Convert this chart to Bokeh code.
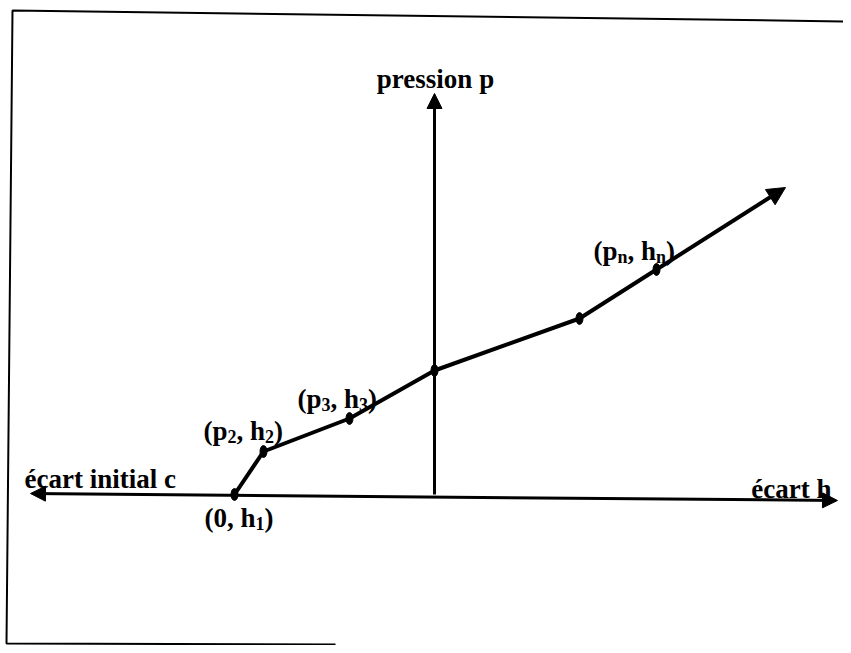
from bokeh.plotting import figure
from bokeh.models import Range1d, Arrow, NormalHead
from bokeh.core.properties import value
from bokeh.embed import file_html
from bokeh.resources import INLINE

# ---- data (units: pixels, origin at the crossing of the two axes) ----
h_points = [-200, -171, -85, 0, 145, 222]      # écart h
p_points = [0, 43, 76, 124, 176, 225]          # pression p
h_arrow_end = 351
p_arrow_end = 307

h_axis_left = -404
h_axis_right = 403
p_axis_left = 1
p_axis_right = -6
p_axis_top = 401

# point labels: (main1, sub1, main2, sub2), anchor = left / baseline
label_parts = [("0", "", "h", "1"), ("p", "2", "h", "2"),
               ("p", "3", "h", "3"), ("p", "n", "h", "n")]
label_h = [-230, -231, -137, 159]
label_p = [-23, 64, 96, 244]

axis_titles = ["pression p", "écart initial c", "écart h"]
axis_title_h = [1, -410, 397]
axis_title_p = [416, 16, 6]
axis_title_align = ["center", "left", "right"]

# scanned page frame (picture pixels)
frame_x = [335, 6, 12, 851]
frame_y = [644, 643, 10, 21]

OX, OY = 434, 494  # crossing of axes in picture pixels
PW, PH = 843, 645

FONT = value("Liberation Serif")
F = 27
FL = 27
FS = 18
SUB = 6

W = {'(': 333, ')': 333, 'p': 556, 'h': 556, ',': 250, ' ': 250,
     '0': 500, '1': 500, '2': 500, '3': 500, 'n': 556}


def tw(s, size):
    return sum(W[c] for c in s) * size / 1000.0


p = figure(width=PW, height=PH, x_range=Range1d(-OX, PW - OX),
           y_range=Range1d(OY - PH, OY), x_axis_location=None,
           y_axis_location=None, toolbar_location=None,
           output_backend="svg", min_border=0)
p.grid.visible = False
p.outline_line_color = None
p.background_fill_color = "white"
p.border_fill_color = "white"

# frame
p.line([x - OX for x in frame_x], [OY - y for y in frame_y],
       line_color="black", line_width=2)

# axes
p.add_layout(Arrow(x_start=h_axis_left, y_start=p_axis_left,
                   x_end=h_axis_right, y_end=p_axis_right,
                   line_width=3, line_color="black",
                   start=NormalHead(size=15, fill_color="black", line_color="black"),
                   end=NormalHead(size=15, fill_color="black", line_color="black")))
p.add_layout(Arrow(x_start=0, y_start=0, x_end=0, y_end=p_axis_top,
                   line_width=3, line_color="black",
                   end=NormalHead(size=15, fill_color="black", line_color="black")))

# curve
p.line(h_points, p_points, line_color="black", line_width=4)
p.add_layout(Arrow(x_start=h_points[-1], y_start=p_points[-1],
                   x_end=h_arrow_end, y_end=p_arrow_end,
                   line_width=4, line_color="black",
                   end=NormalHead(size=18, fill_color="black", line_color="black")))
p.ellipse(h_points, p_points, width=7, height=12, fill_color="black",
          line_color="black")

# point labels with subscripts
mx, my, mt = [], [], []
sx, sy, st = [], [], []
for (a, sa, b, sb), x0, y0 in zip(label_parts, label_h, label_p):
    x = x0
    s = "(" + a
    mx.append(x); my.append(y0); mt.append(s)
    x += tw(s, FL)
    if sa:
        sx.append(x); sy.append(y0 - SUB); st.append(sa)
        x += tw(sa, FS)
    s = ", " + b
    mx.append(x); my.append(y0); mt.append(s)
    x += tw(s, FL)
    sx.append(x); sy.append(y0 - SUB); st.append(sb)
    x += tw(sb, FS)
    mx.append(x); my.append(y0); mt.append(")")

p.text(mx, my, text=mt, text_font=FONT, text_font_style="bold",
       text_font_size=f"{FL}px", text_baseline="alphabetic", text_align="left",
       text_color="black")
p.text(sx, sy, text=st, text_font=FONT, text_font_style="bold",
       text_font_size=f"{FS}px", text_baseline="alphabetic", text_align="left",
       text_color="black")

for t, x, y, al in zip(axis_titles, axis_title_h, axis_title_p, axis_title_align):
    p.text([x], [y], text=[t], text_font=FONT, text_font_style="bold",
           text_font_size=f"{F}px", text_baseline="alphabetic", text_align=al,
           text_color="black")

open("out.html", "w").write(file_html(p, INLINE))
